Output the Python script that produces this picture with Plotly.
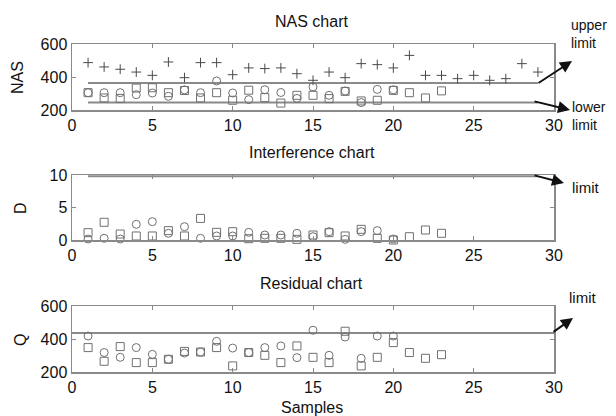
import plotly.graph_objects as go

samples_plus = list(range(1, 30))
samples_circle = list(range(1, 21))
samples_square = list(range(1, 24))

nas_plus = [487, 461, 447, 430, 410, 491, 396, 487, 487, 414, 455, 451, 455, 420, 380,
            430, 396, 481, 475, 455, 531, 410, 410, 390, 410, 380, 390, 481, 430]
nas_circle = [305, 305, 305, 293, 303, 283, 322, 305, 376, 303, 263, 323, 306, 270, 340,
              289, 315, 245, 325, 322]
nas_square = [305, 273, 270, 333, 335, 305, 318, 273, 305, 259, 320, 275, 242, 289, 289,
              269, 313, 255, 259, 319, 305, 273, 316]

d_circle = [0.15, 0.26, 0.15, 2.41, 2.82, 1.03, 2.05, 0.26, 0.62, 0.62, 1.18, 0.77, 0.77,
            1.03, 0.51, 1.28, 0.1, 1.28, 1.44, 0.15]
d_square = [1.13, 2.72, 0.92, 0.62, 0.62, 1.44, 0.62, 3.33, 1.18, 1.28, 0.2, 0.26, 0.26,
            0.1, 0.77, 1.13, 0.62, 1.64, 0.26, 0.0, 0.51, 1.54, 1.03]

q_circle = [418, 318, 289, 348, 307, 277, 315, 321, 386, 345, 318, 348, 358, 287, 453,
            301, 412, 283, 418, 418]
q_square = [348, 265, 354, 257, 257, 277, 325, 321, 348, 237, 318, 301, 257, 358, 289,
            257, 447, 237, 289, 378, 318, 283, 305]

nas_upper = 364
nas_lower = 245
nas_limit_x = [1, 29]
d_limit = 9.8
d_limit_x = [1, 29]
q_limit = 436
q_limit_x = [0, 30]

W, H = 616, 416
MK = "#707070"
LN = "#8a8a8a"
FONT = "Liberation Sans, Arial, sans-serif"

fig = go.Figure()


def add_markers(xa, ya, xs, ys, symbol, color, size=8):
    fig.add_trace(go.Scatter(x=xs, y=ys, mode="markers", xaxis=xa, yaxis=ya,
                             marker=dict(symbol=symbol, size=size, color=color,
                                         line=dict(color=color, width=1)),
                             showlegend=False, cliponaxis=False, hoverinfo="skip"))


def add_line(xa, ya, xs, val):
    fig.add_trace(go.Scatter(x=xs, y=[val] * len(xs), mode="lines", xaxis=xa, yaxis=ya,
                             line=dict(color=LN, width=2), showlegend=False,
                             hoverinfo="skip"))


# Panel 1
add_line("x", "y", nas_limit_x, nas_upper)
add_line("x", "y", nas_limit_x, nas_lower)
add_markers("x", "y", samples_plus, nas_plus, "cross-thin-open", "#4a4a4a", 7)
add_markers("x", "y", samples_circle, nas_circle, "circle-open", MK)
add_markers("x", "y", samples_square, nas_square, "square-open", MK)
# Panel 2
add_line("x2", "y2", d_limit_x, d_limit)
add_markers("x2", "y2", samples_circle, d_circle, "circle-open", MK)
add_markers("x2", "y2", samples_square, d_square, "square-open", MK)
# Panel 3
add_line("x3", "y3", q_limit_x, q_limit)
add_markers("x3", "y3", samples_circle, q_circle, "circle-open", MK)
add_markers("x3", "y3", samples_square, q_square, "square-open", MK)

xdom = [72 / W, 554 / W]


def ydom(top, bottom):
    return [1 - bottom / H, 1 - top / H]


axis_common = dict(showline=True, linecolor=LN, linewidth=1.5, mirror="ticks",
                   ticks="inside", ticklen=4, tickcolor=LN, showgrid=False,
                   zeroline=False, automargin=False,
                   tickfont=dict(family=FONT, size=16, color="#111"))

layout = dict(
    width=W, height=H, margin=dict(l=0, r=0, t=0, b=0, autoexpand=False),
    paper_bgcolor="white", plot_bgcolor="white",
    font=dict(family=FONT, size=16, color="#111"),
    showlegend=False,
)
for i, (top, bot, yr, ytv, anchor) in enumerate([
        (44, 110, [200, 600], [200, 400, 600], ""),
        (175, 240, [0, 10], [0, 5, 10], "2"),
        (306, 372, [200, 600], [200, 400, 600], "3")]):
    layout["xaxis" + anchor] = dict(domain=xdom, range=[0, 30], tickvals=[0, 5, 10, 15, 20, 25, 30],
                                    anchor="y" + anchor, **axis_common)
    layout["yaxis" + anchor] = dict(domain=ydom(top, bot), range=yr, tickvals=ytv,
                                    anchor="x" + anchor, **axis_common)

fig.update_layout(**layout)


def px(x):
    return x / W


def py(y):
    return 1 - y / H


def text(x, y, s, xanchor="center", yanchor="middle", angle=0, size=16, align="center"):
    fig.add_annotation(x=px(x), y=py(y), xref="paper", yref="paper", text=s,
                       showarrow=False, xanchor=xanchor, yanchor=yanchor, textangle=angle,
                       align=align, borderpad=0,
                       font=dict(family=FONT, size=size, color="#111"))


def arrow(hx, hy, tx, ty):
    fig.add_annotation(x=px(hx), y=py(hy), xref="paper", yref="paper",
                       ax=tx - hx, ay=ty - hy, axref="pixel", ayref="pixel", text="",
                       showarrow=True, arrowhead=2, arrowsize=1.2, arrowwidth=2,
                       arrowcolor="#111")


text(312, 21, "NAS chart")
text(312, 152, "Interference chart")
text(312, 283, "Residual chart")
text(312, 407, "Samples")
text(17, 78, "NAS", angle=-90)
text(20, 208, "D", angle=-90)
text(20, 340, "Q", angle=-90)

text(570, 34, "upper<br>limit", xanchor="left", size=14, align="left")
text(571, 116, "lower<br>limit", xanchor="left", size=14, align="left")
text(571, 188, "limit", xanchor="left", size=15)
text(568, 297, "limit", xanchor="left", size=15)

arrow(572, 61, 537, 84)
arrow(570, 110, 533, 101)
arrow(564, 183, 533, 175)
arrow(573, 318, 552, 333)

fig.write_html("out.html", config={"displayModeBar": False, "staticPlot": True},
               post_script="document.body.style.margin='0';document.body.style.overflow='hidden';")
